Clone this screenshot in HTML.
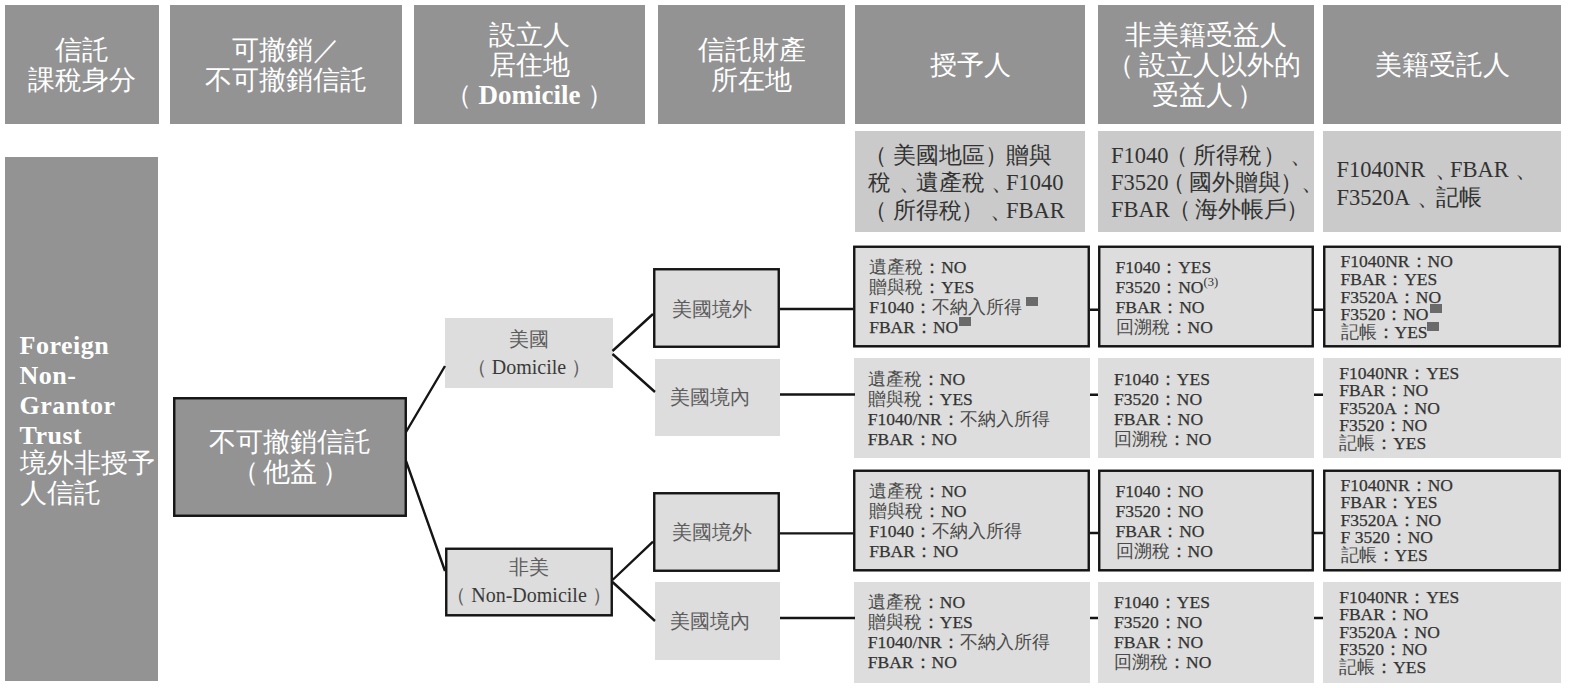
<!DOCTYPE html>
<html><head><meta charset="utf-8">
<style>
*{margin:0;padding:0;box-sizing:border-box}
html,body{width:1570px;height:688px;background:#fff;overflow:hidden}
body{position:relative;font-family:"Liberation Serif",serif}
.b{position:absolute}
.hd{background:#939393;color:#fff;font-size:27px;line-height:30px;text-align:center;display:flex;align-items:center;justify-content:center}
.inf{position:absolute;background:#c9cac9}
.it{position:absolute;white-space:pre;color:#333;font-size:22.5px;line-height:28px;height:28px}
.lt{background:#dcdddc}
.t{position:absolute;white-space:pre}
.dt{position:absolute;white-space:pre;font-size:17.5px;color:#333;-webkit-text-stroke:0.25px #333}
.dt .c{color:#4a4a4a;-webkit-text-stroke:0}
.dt div{height:20px;line-height:20px}
.dc div{height:17.6px;line-height:17.6px}
.tr{position:absolute;white-space:pre;font-size:20px;color:#3a3a3a;text-align:center}
.tr .c{color:#5c5c5c}
.sup{font-size:12.5px;position:relative;top:-7px;line-height:0;-webkit-text-stroke:0}
.sq{position:absolute;background:#6a6a6a;width:12px;height:9px}
svg{position:absolute;left:0;top:0}
</style></head><body>
<div class="b hd" style="left:5px;top:5px;width:154px;height:119px;"><div>信託<br>課稅身分</div></div>
<div class="b hd" style="left:170px;top:5px;width:232px;height:119px;"><div>可撤銷／<br>不可撤銷信託</div></div>
<div class="b hd" style="left:414px;top:5px;width:231px;height:119px;"><div>設立人<br>居住地<br>（ <b>Domicile</b> ）</div></div>
<div class="b hd" style="left:658px;top:5px;width:187px;height:119px;"><div>信託財產<br>所在地</div></div>
<div class="b hd" style="left:855px;top:5px;width:230px;height:119px;"><div>授予人</div></div>
<div class="b hd" style="left:1098px;top:5px;width:216px;height:119px;"><div>非美籍受益人<br><span style="position:relative;left:-5px">（</span>設立人以外的<br>受益人<span style="position:relative;left:4px">）</span></div></div>
<div class="b hd" style="left:1323px;top:5px;width:238px;height:119px;"><div>美籍受託人</div></div>
<div class="inf" style="left:855px;top:131px;width:230px;height:101px"></div>
<div class="inf" style="left:1098px;top:131px;width:216px;height:101px"></div>
<div class="inf" style="left:1323px;top:131px;width:238px;height:101px"></div>
<div class="it" style="left:864.2px;top:142.2px">（</div>
<div class="it" style="left:892.9px;top:142.2px">美國地區</div>
<div class="it" style="left:985.2px;top:142.2px">）</div>
<div class="it" style="left:1005.9px;top:142.2px">贈與</div>
<div class="it" style="left:867.9px;top:169.4px">稅</div>
<div class="it" style="left:898.9px;top:169.4px">、</div>
<div class="it" style="left:915.6px;top:169.4px">遺產稅</div>
<div class="it" style="left:990.6px;top:169.4px">、</div>
<div class="it" style="left:1005.9px;top:169.4px">F1040</div>
<div class="it" style="left:864.2px;top:196.6px">（</div>
<div class="it" style="left:892.9px;top:196.6px">所得稅</div>
<div class="it" style="left:960.9px;top:196.6px">）</div>
<div class="it" style="left:989.9px;top:196.6px">、</div>
<div class="it" style="left:1005.9px;top:196.6px">FBAR</div>
<div class="it" style="left:1110.9px;top:141.6px">F1040</div>
<div class="it" style="left:1165.2px;top:141.6px">（</div>
<div class="it" style="left:1193.2px;top:141.6px">所得稅</div>
<div class="it" style="left:1262.8px;top:141.6px">）</div>
<div class="it" style="left:1289.5px;top:141.6px">、</div>
<div class="it" style="left:1110.9px;top:168.7px">F3520</div>
<div class="it" style="left:1162.3px;top:168.7px">（</div>
<div class="it" style="left:1188.8px;top:168.7px">國外贈與</div>
<div class="it" style="left:1279.7px;top:168.7px">）</div>
<div class="it" style="left:1300.5px;top:168.7px">、</div>
<div class="it" style="left:1110.9px;top:195.9px">FBAR</div>
<div class="it" style="left:1168.1px;top:195.9px">（</div>
<div class="it" style="left:1194.7px;top:195.9px">海外帳戶</div>
<div class="it" style="left:1285.5px;top:195.9px">）</div>
<div class="it" style="left:1336.4px;top:155.5px">F1040NR</div>
<div class="it" style="left:1435.1px;top:155.5px">、</div>
<div class="it" style="left:1450.1px;top:155.5px">FBAR</div>
<div class="it" style="left:1515.4px;top:155.5px">、</div>
<div class="it" style="left:1336.4px;top:183.5px">F3520A</div>
<div class="it" style="left:1416.9px;top:183.5px">、</div>
<div class="it" style="left:1436.4px;top:183.5px">記帳</div>
<div class="b" style="left:5px;top:157px;width:153px;height:524px;background:#939393"></div>
<div class="t" style="left:19.5px;top:330.7px;color:#fff;font-size:26px;line-height:30px"><b style="letter-spacing:0.5px">Foreign<br>Non-<br>Grantor<br>Trust</b><div style="font-size:27px;position:relative;top:-2.5px">境外非授予<br>人信託</div></div>
<div class="b hd" style="left:173px;top:397px;width:234px;height:120px;font-size:27px;line-height:30px"><div>不可撤銷信託<br>（<span style="padding:0 4.5px">他益</span>）</div></div>
<div class="b lt" style="left:445px;top:318px;width:168px;height:70px"></div>
<div class="tr" style="left:445px;top:325px;width:168px;line-height:28px"><span class=c>美國</span><br><span class=c>（</span> Domicile <span class=c>）</span></div>
<div class="b lt" style="left:445px;top:547.5px;width:168px;height:69px"></div>
<div class="tr" style="left:445px;top:553px;width:168px;line-height:28px"><span class=c>非美</span><br><span class=c>（</span> Non-Domicile <span class=c>）</span></div>
<div class="b lt" style="left:653px;top:268px;width:127px;height:80px"></div>
<div class="b lt" style="left:655px;top:358.5px;width:125px;height:77.5px"></div>
<div class="b lt" style="left:653px;top:492px;width:127px;height:80px"></div>
<div class="b lt" style="left:655px;top:581.5px;width:125px;height:78.5px"></div>
<div class="tr" style="left:672px;top:295.5px"><span class=c>美國境外</span></div>
<div class="tr" style="left:670px;top:383.5px"><span class=c>美國境內</span></div>
<div class="tr" style="left:672px;top:518.5px"><span class=c>美國境外</span></div>
<div class="tr" style="left:670px;top:607.5px"><span class=c>美國境內</span></div>
<div class="b lt" style="left:853px;top:245.5px;width:237px;height:102px"></div>
<div class="b lt" style="left:1098px;top:245.5px;width:216px;height:102px"></div>
<div class="b lt" style="left:1323px;top:245.5px;width:238px;height:102px"></div>
<div class="b lt" style="left:854px;top:358.3px;width:236px;height:100.2px"></div>
<div class="b lt" style="left:1098px;top:358.3px;width:216px;height:100.2px"></div>
<div class="b lt" style="left:1323px;top:358.3px;width:238px;height:100.2px"></div>
<div class="b lt" style="left:853px;top:469.5px;width:237px;height:102px"></div>
<div class="b lt" style="left:1098px;top:469.5px;width:216px;height:102px"></div>
<div class="b lt" style="left:1323px;top:469.5px;width:238px;height:102px"></div>
<div class="b lt" style="left:854px;top:582px;width:236px;height:101px"></div>
<div class="b lt" style="left:1098px;top:582px;width:216px;height:101px"></div>
<div class="b lt" style="left:1323px;top:582px;width:238px;height:101px"></div>
<div class="dt" style="left:869.2px;top:257.2px"><div><span class=c>遺產稅</span>：NO</div><div><span class=c>贈與稅</span>：YES</div><div>F1040：<span class=c>不納入所得</span></div><div>FBAR：NO</div></div>
<div class="dt" style="left:1115.5px;top:257.2px"><div>F1040：YES</div><div>F3520：NO<span class=sup>(3)</span></div><div>FBAR：NO</div><div><span class=c>回溯稅</span>：NO</div></div>
<div class="dt dc" style="left:1340.5px;top:253.4px"><div>F1040NR：NO</div><div>FBAR：YES</div><div>F3520A：NO</div><div>F3520：NO</div><div><span class=c>記帳</span>：YES</div></div>
<div class="dt" style="left:867.8px;top:369.1px"><div><span class=c>遺產稅</span>：NO</div><div><span class=c>贈與稅</span>：YES</div><div>F1040/NR：<span class=c>不納入所得</span></div><div>FBAR：NO</div></div>
<div class="dt" style="left:1114.1px;top:369.1px"><div>F1040：YES</div><div>F3520：NO</div><div>FBAR：NO</div><div><span class=c>回溯稅</span>：NO</div></div>
<div class="dt dc" style="left:1339.2px;top:364.7px"><div>F1040NR：YES</div><div>FBAR：NO</div><div>F3520A：NO</div><div>F3520：NO</div><div><span class=c>記帳</span>：YES</div></div>
<div class="dt" style="left:869.2px;top:481.2px"><div><span class=c>遺產稅</span>：NO</div><div><span class=c>贈與稅</span>：NO</div><div>F1040：<span class=c>不納入所得</span></div><div>FBAR：NO</div></div>
<div class="dt" style="left:1115.5px;top:481.2px"><div>F1040：NO</div><div>F3520：NO</div><div>FBAR：NO</div><div><span class=c>回溯稅</span>：NO</div></div>
<div class="dt dc" style="left:1340.6px;top:476.7px"><div>F1040NR：NO</div><div>FBAR：YES</div><div>F3520A：NO</div><div>F 3520：NO</div><div><span class=c>記帳</span>：YES</div></div>
<div class="dt" style="left:867.8px;top:592.1px"><div><span class=c>遺產稅</span>：NO</div><div><span class=c>贈與稅</span>：YES</div><div>F1040/NR：<span class=c>不納入所得</span></div><div>FBAR：NO</div></div>
<div class="dt" style="left:1114.1px;top:592.1px"><div>F1040：YES</div><div>F3520：NO</div><div>FBAR：NO</div><div><span class=c>回溯稅</span>：NO</div></div>
<div class="dt dc" style="left:1339.2px;top:588.7px"><div>F1040NR：YES</div><div>FBAR：NO</div><div>F3520A：NO</div><div>F3520：NO</div><div><span class=c>記帳</span>：YES</div></div>
<div class="sq" style="left:1026.3px;top:296.6px"></div>
<div class="sq" style="left:959.4px;top:317px"></div>
<div class="sq" style="left:1430px;top:304.4px"></div>
<div class="sq" style="left:1427.3px;top:322px"></div>
<svg width="1570" height="688" viewBox="0 0 1570 688">
<g stroke="#151515" stroke-width="2.4" fill="none">
<rect x="174.25" y="398.25" width="231.5" height="117.5"/>
<rect x="446.25" y="548.75" width="165.5" height="66.5"/>
<rect x="654.25" y="269.25" width="124.5" height="77.5"/>
<rect x="654.25" y="493.25" width="124.5" height="77.5"/>
<rect x="854.25" y="246.75" width="234.5" height="99.5"/>
<rect x="1099.25" y="246.75" width="213.5" height="99.5"/>
<rect x="1324.25" y="246.75" width="235.5" height="99.5"/>
<rect x="854.25" y="470.75" width="234.5" height="99.5"/>
<rect x="1099.25" y="470.75" width="213.5" height="99.5"/>
<rect x="1324.25" y="470.75" width="235.5" height="99.5"/>
<path d="M406 432L445 366M406 461L445 571"/>
<path d="M612.5 351L653 314M612.5 354L655 392"/>
<path d="M612.5 580L653 541.6M612.5 582L655 621"/>
<path d="M780 309H853M780 394.5H855M780 533.4H853M780 618H855"/>
<path d="M1090 309.7H1098M1090 394.8H1098M1090 533H1098M1090 618H1098"/>
<path d="M1314 309.7H1323M1314 394.8H1323M1314 533H1323M1314 618H1323"/>
</g>
</svg>
</body></html>
